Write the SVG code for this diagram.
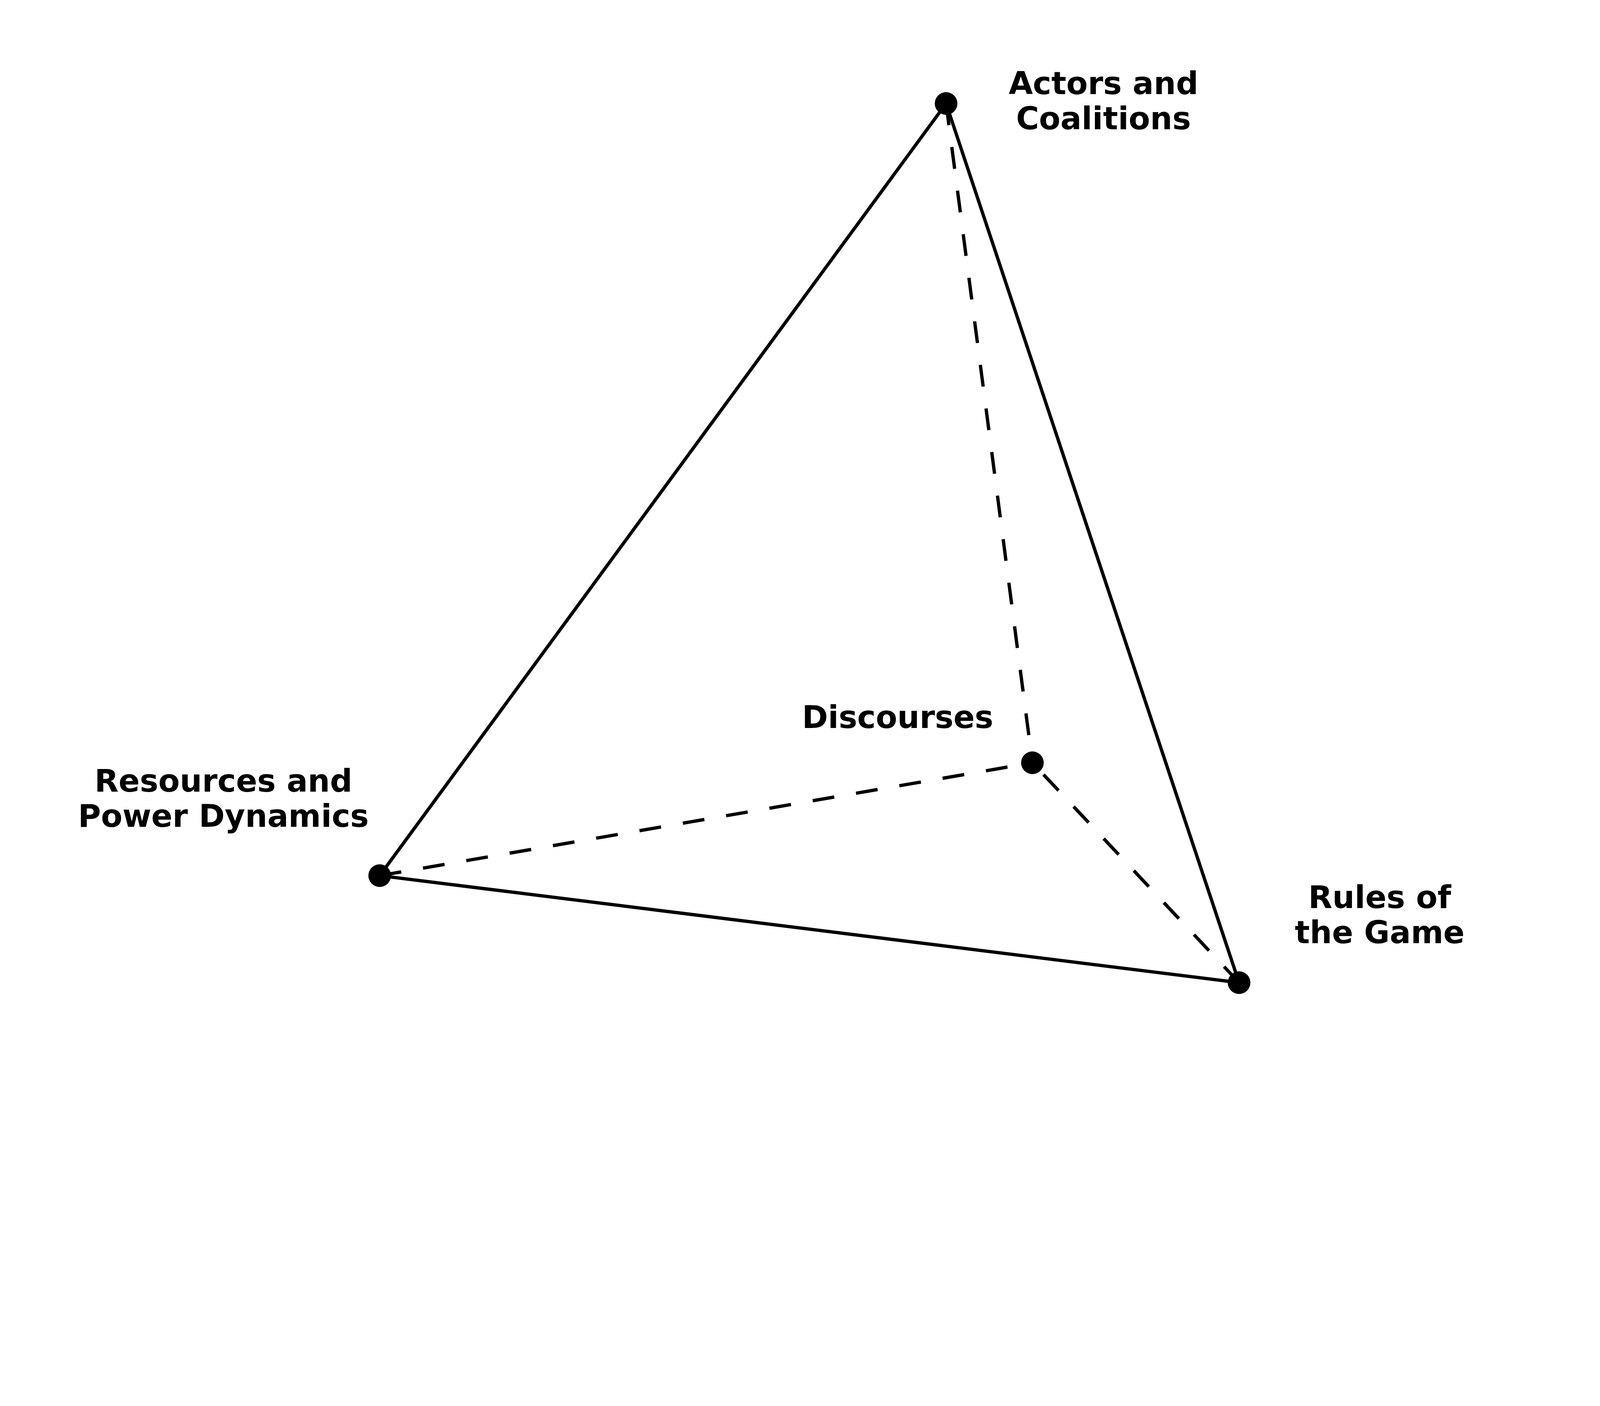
<svg xmlns="http://www.w3.org/2000/svg" width="4500" height="3600" viewBox="0 0 4500 3600">
<style>
.edge{stroke:#000;stroke-width:8.5;fill:none;stroke-linecap:butt}
.dash{stroke-dasharray:56 56.5}
.dot{fill:#000}
.lbl{font-family:"DejaVu Sans","Liberation Sans",sans-serif;font-weight:bold;font-size:80px;fill:#000;text-anchor:middle}
</style>
<rect width="4500" height="3600" fill="#fff"/>
<g id="connectors">
<line class="edge" x1="2422" y1="265" x2="972" y2="2242"/>
<line class="edge" x1="2422" y1="265" x2="3172" y2="2516"/>
<line class="edge" x1="972" y1="2242" x2="3172" y2="2516"/>
<line class="edge dash" x1="2422" y1="265" x2="2643" y2="1953"/>
<line class="edge dash" x1="972" y1="2242" x2="2643" y2="1953"/>
<line class="edge dash" x1="3172" y1="2516" x2="2643" y2="1953"/>
</g>
<g id="actors">
<circle class="dot" cx="2422" cy="265" r="29"/>
<text class="lbl" x="2825" y="241">Actors and</text>
<text class="lbl" x="2825" y="331">Coalitions</text>
</g>
<g id="resources">
<circle class="dot" cx="972" cy="2242" r="29"/>
<text class="lbl" x="572" y="2027">Resources and</text>
<text class="lbl" x="572" y="2117">Power Dynamics</text>
</g>
<g id="rules">
<circle class="dot" cx="3172" cy="2516" r="29"/>
<text class="lbl" x="3532" y="2325">Rules of</text>
<text class="lbl" x="3532" y="2415">the Game</text>
</g>
<g id="discourses">
<circle class="dot" cx="2643" cy="1953" r="29"/>
<text class="lbl" x="2298" y="1864">Discourses</text>
</g>
</svg>
